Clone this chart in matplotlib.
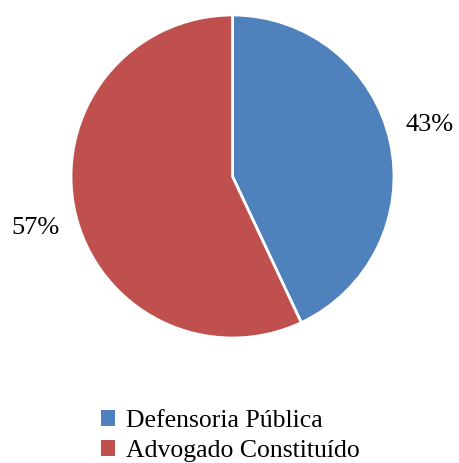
import numpy as np
import matplotlib.pyplot as plt

labels = ["Defensoria Pública", "Advogado Constituído"]
values = [43, 57]
colors = ["#4F81BD", "#C0504D"]

plt.rcParams["font.family"] = ["Liberation Serif", "DejaVu Serif"]

W, H = 459, 463
fig = plt.figure(figsize=(W / 100, H / 100), dpi=100)
ax = fig.add_axes([71 / W, 125 / H, 323 / W, 323 / H])

wedges, texts, autotexts = ax.pie(
    values,
    colors=colors,
    startangle=90,
    counterclock=False,
    radius=1.0,
    autopct="%1.0f%%",
    wedgeprops=dict(edgecolor="white", linewidth=2),
    textprops=dict(fontsize=19, color="black"),
)
# percentage labels sit just outside the rim, nudged a little anticlockwise
for w, t in zip(wedges, autotexts):
    mid = np.deg2rad((w.theta1 + w.theta2) / 2 + 2)
    t.set_position((1.26 * np.cos(mid), 1.26 * np.sin(mid)))

ax.set_xlim(-1, 1)
ax.set_ylim(-1, 1)
ax.set_aspect("equal")

leg = fig.legend(
    wedges,
    labels,
    loc="upper left",
    bbox_to_anchor=(101 / W, 1 - 410 / H),
    frameon=False,
    fontsize=18.5,
    handlelength=0.55,
    handleheight=0.55,
    handletextpad=0.42,
    labelspacing=0.32,
    borderaxespad=0,
    borderpad=0,
)
for h in leg.legend_handles:
    h.set_edgecolor("none")

fig.savefig("out.png", dpi=100)
